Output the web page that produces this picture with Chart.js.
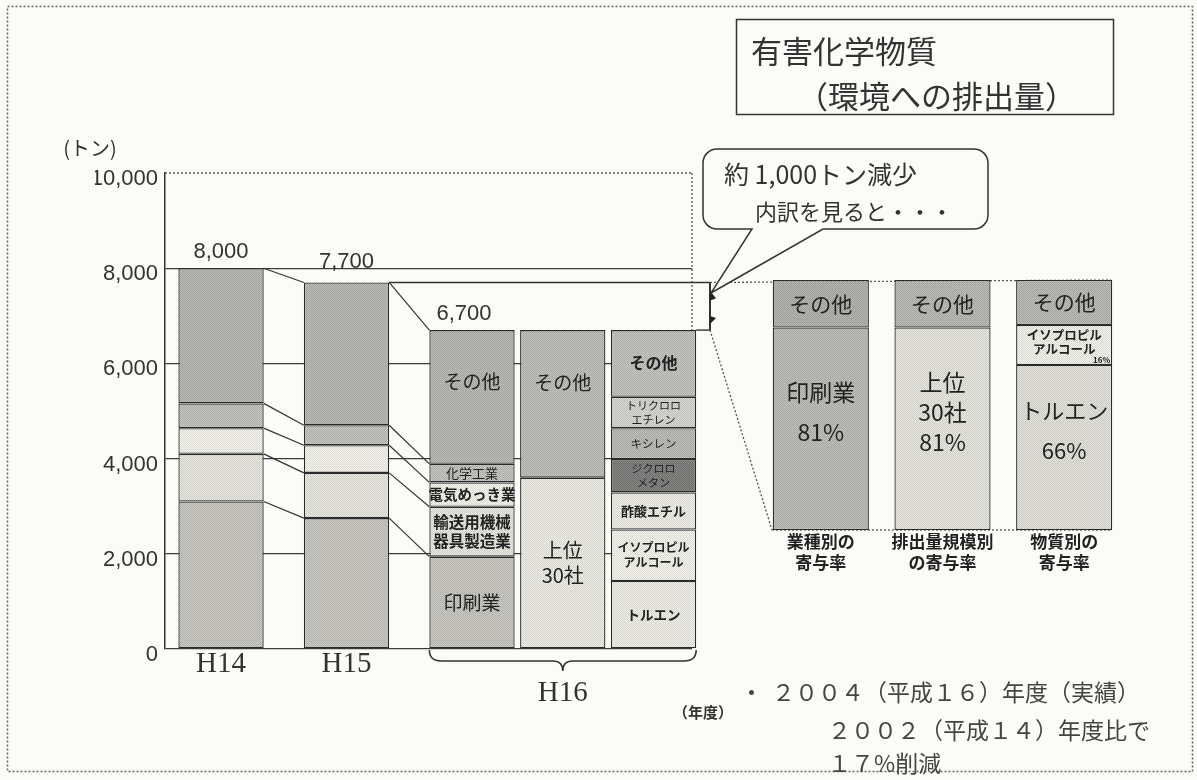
<!DOCTYPE html>
<html lang="ja">
<head>
<meta charset="utf-8">
<title>有害化学物質（環境への排出量）</title>
<script src="https://cdn.jsdelivr.net/npm/chart.js@4.4.1/dist/chart.umd.min.js"></script>
<style>
  html, body { margin: 0; padding: 0; background: #fbfbf8; }
  #wrap { position: relative; width: 1197px; height: 780px; overflow: hidden; }
  #main { position: absolute; left: 0; top: 0; }
  #side { position: absolute; left: 700px; top: 260px; }
</style>
</head>
<body>
<div id="wrap">
  <canvas id="main" width="1197" height="780"></canvas>
  <canvas id="side" width="460" height="340"></canvas>
</div>
<script>
// 排出量 (トン) : H14, H15, H16
var years = ['H14', 'H15', 'H16'];
var totals = [8000, 7700, 6700];
var yTicks = [0, 2000, 4000, 6000, 8000, 10000];

// 業種別
var printing = [3100, 2750, 1940];
var transport = [1000, 950, 1050];
var plating = [540, 580, 510];
var chemical = [520, 420, 390];
var industryOther = [2840, 3000, 2810];

// 排出量規模別 (H16のみ)
var top30 = [null, null, 3600];
var scaleOther = [null, null, 3100];

// 物質別 (H16のみ)
var toluene = [null, null, 1430];
var ipa = [null, null, 1080];
var ethylAcetate = [null, null, 780];
var dichloromethane = [null, null, 700];
var xylene = [null, null, 650];
var tce = [null, null, 660];
var substanceOther = [null, null, 1400];

// 減少分の寄与率 (%)
var shareGroups = [['業種別の', '寄与率'], ['排出量規模別', 'の寄与率'], ['物質別の', '寄与率']];
var shareMain = [81, 81, 66];
var shareSecond = [null, null, 16];
var shareOther = [19, 19, 18];

Chart.defaults.font.family = '"Noto Sans CJK JP", "Noto Sans", sans-serif';
Chart.defaults.color = '#333';

function shade(hex, d) {
  var n = parseInt(hex.slice(1), 16);
  var r = Math.max(0, Math.min(255, (n >> 16) + d));
  var g = Math.max(0, Math.min(255, ((n >> 8) & 255) + d));
  var b = Math.max(0, Math.min(255, (n & 255) + d));
  return 'rgb(' + r + ',' + g + ',' + b + ')';
}

// scanned halftone look
function dots(hex) {
  var cv = document.createElement('canvas');
  cv.width = 2; cv.height = 2;
  var g = cv.getContext('2d');
  g.fillStyle = shade(hex, 14);
  g.fillRect(0, 0, 2, 2);
  g.fillStyle = shade(hex, -14);
  g.fillRect(0, 0, 1, 1);
  g.fillRect(1, 1, 1, 1);
  return g.createPattern(cv, 'repeat');
}

function line(c, x1, y1, x2, y2) {
  c.beginPath(); c.moveTo(x1, y1); c.lineTo(x2, y2); c.stroke();
}

function drawInner(c, el, spec) {
  var top = Math.min(el.y, el.base), bottom = Math.max(el.y, el.base);
  var yc = top + (bottom - top) * (spec.at || 0.5);
  var lh = spec.lh || spec.size * 1.2;
  c.font = (spec.bold ? 'bold ' : '') + spec.size + 'px "Noto Sans CJK JP"';
  c.fillStyle = '#222';
  c.textAlign = 'center';
  c.textBaseline = 'middle';
  var y0 = yc - (spec.lines.length - 1) * lh / 2;
  spec.lines.forEach(function (t, i) { c.fillText(t, el.x, y0 + i * lh); });
  if (spec.note) {
    c.font = 'bold 8px "Noto Sans CJK JP"';
    c.textAlign = 'right';
    c.fillText(spec.note, el.x + el.width / 2 - 2, bottom - 5);
  }
}

// ---- right panel: 寄与率 ----
var shareText = {
  id: 'shareText',
  afterDatasetsDraw: function (chart) {
    var c = chart.ctx;
    c.save();
    chart.data.datasets.forEach(function (ds, k) {
      chart.getDatasetMeta(k).data.forEach(function (el, i) {
        if (ds.inner[i] && ds.data[i] != null) drawInner(c, el, ds.inner[i]);
      });
    });
    c.restore();
  }
};

var sideChart = new Chart(document.getElementById('side'), {
  type: 'bar',
  data: {
    labels: shareGroups,
    datasets: [
      {
        label: '主な寄与',
        data: shareMain,
        backgroundColor: [dots('#b3b3b0'), dots('#dcdbd3'), dots('#d8d7cf')],
        inner: [
          { lines: ['印刷業', '81%'], size: 23, lh: 40, at: 0.42 },
          { lines: ['上位', '30社', '81%'], size: 23, lh: 30, at: 0.42 },
          { lines: ['トルエン', '66%'], size: 22, lh: 40, at: 0.4 }
        ]
      },
      {
        label: 'イソプロピルアルコール',
        data: shareSecond,
        backgroundColor: dots('#e6e5de'),
        inner: [null, null, { lines: ['イソプロピル', 'アルコール'], size: 12.5, lh: 14, bold: true, at: 0.42, note: '16%' }]
      },
      {
        label: 'その他',
        data: shareOther,
        backgroundColor: [dots('#a9a9a6'), dots('#b0b0ad'), dots('#b0b0ad')],
        inner: [
          { lines: ['その他'], size: 21 },
          { lines: ['その他'], size: 21 },
          { lines: ['その他'], size: 21 }
        ]
      }
    ]
  },
  options: {
    responsive: false,
    animation: false,
    devicePixelRatio: 1,
    layout: { padding: { left: 60, right: 35, top: 20, bottom: 20 } },
    datasets: {
      bar: {
        categoryPercentage: 1,
        barPercentage: 0.79,
        borderColor: '#2b2b2b',
        borderWidth: 1.3,
        borderSkipped: false
      }
    },
    plugins: { legend: { display: false }, tooltip: { enabled: false } },
    scales: {
      x: {
        stacked: true,
        grid: { display: false },
        border: { display: false },
        ticks: {
          color: '#222',
          padding: -6,
          maxRotation: 0,
          autoSkip: false,
          font: { size: 17, weight: 'bold', lineHeight: 1.18 }
        },
        afterFit: function (s) { s.height = 50; }
      },
      y: { stacked: true, min: 0, max: 100, display: false }
    }
  },
  plugins: [shareText]
});

// ---- main chart ----
function seg(label, values, color, stack, inner) {
  return {
    label: label,
    stack: stack,
    data: values.map(function (v, i) { return { x: i, y: v }; }),
    backgroundColor: dots(color),
    inner: inner
  };
}

var datasets = [
  seg('印刷業', printing, '#bebdb8', 'industry', { lines: ['印刷業'], size: 19 }),
  seg('輸送用機械器具製造業', transport, '#dddcd4', 'industry', { lines: ['輸送用機械', '器具製造業'], size: 15.5, lh: 19, bold: true }),
  seg('電気めっき業', plating, '#e8e7e0', 'industry', { lines: ['電気めっき業'], size: 14.5, bold: true }),
  seg('化学工業', chemical, '#b9b9b5', 'industry', { lines: ['化学工業'], size: 13 }),
  seg('その他', industryOther, '#afafac', 'industry', { lines: ['その他'], size: 19, at: 0.39 }),
  seg('上位30社', top30, '#e1e0d9', 'scale', { lines: ['上位', '30社'], size: 20, lh: 25 }),
  seg('その他', scaleOther, '#b5b5b2', 'scale', { lines: ['その他'], size: 19, at: 0.36 }),
  seg('トルエン', toluene, '#e3e2db', 'substance', { lines: ['トルエン'], size: 13.5, bold: true }),
  seg('イソプロピルアルコール', ipa, '#e8e7e0', 'substance', { lines: ['イソプロピル', 'アルコール'], size: 12, lh: 15, bold: true }),
  seg('酢酸エチル', ethylAcetate, '#e3e2db', 'substance', { lines: ['酢酸エチル'], size: 13, bold: true }),
  seg('ジクロロメタン', dichloromethane, '#7a7a78', 'substance', { lines: ['ジクロロ', 'メタン'], size: 11, lh: 14 }),
  seg('キシレン', xylene, '#b2b2af', 'substance', { lines: ['キシレン'], size: 11.5 }),
  seg('トリクロロエチレン', tce, '#cbcbc7', 'substance', { lines: ['トリクロロ', 'エチレン'], size: 11, lh: 14 }),
  seg('その他', substanceOther, '#b9b9b6', 'substance', { lines: ['その他'], size: 16, bold: true })
];
var INDUSTRY = 5;

function sidePanel() {
  var cv = document.getElementById('side'), a = sideChart.chartArea;
  return {
    left: cv.offsetLeft + a.left + 12, right: cv.offsetLeft + a.right - 14,
    top: cv.offsetTop + a.top, bottom: cv.offsetTop + a.bottom
  };
}

var decor = {
  id: 'decor',
  beforeDraw: function (chart) {
    var c = chart.ctx;
    c.save();
    c.fillStyle = '#fbfbf8';
    c.fillRect(0, 0, chart.width, chart.height);
    c.strokeStyle = '#666';
    c.lineWidth = 1.5;
    c.setLineDash([2, 2]);
    c.strokeRect(7.5, 6.5, 1185, 765);
    c.restore();
  },
  afterDatasetsDraw: function (chart) {
    var c = chart.ctx, a = chart.chartArea;
    var topInd = chart.getDatasetMeta(INDUSTRY - 1).data;
    var subTop = chart.getDatasetMeta(datasets.length - 1).data[2];
    var h16a = chart.getDatasetMeta(0).data[2];
    var h16b = chart.getDatasetMeta(INDUSTRY).data[2];
    var bx = a.right + 18;
    var p = sidePanel();
    c.save();

    // frame of plot (dotted)
    c.strokeStyle = '#555';
    c.lineWidth = 1.3;
    c.setLineDash([2, 2]);
    line(c, a.left, a.top, a.right, a.top);
    line(c, a.right, a.top, a.right, subTop.y);
    // zoom lines to the right panel
    line(c, bx, topInd[1].y, p.right, p.top);
    line(c, bx, subTop.y, p.left, p.bottom);
    line(c, p.left, p.bottom, p.right, p.bottom);
    c.setLineDash([]);

    // connectors between industry stacks
    c.strokeStyle = '#333';
    c.lineWidth = 1.2;
    for (var k = 0; k < INDUSTRY; k++) {
      var d = chart.getDatasetMeta(k).data;
      for (var i = 0; i < 2; i++) {
        line(c, d[i].x + d[i].width / 2, d[i].y, d[i + 1].x - d[i + 1].width / 2, d[i + 1].y);
      }
    }
    // 7,700 / 6,700 levels and bracket
    c.lineWidth = 1.4;
    line(c, topInd[1].x + topInd[1].width / 2, topInd[1].y, bx, topInd[1].y);
    line(c, subTop.x + subTop.width / 2, subTop.y, bx, subTop.y);
    c.lineWidth = 2;
    line(c, bx, topInd[1].y, bx, subTop.y);
    c.fillStyle = '#222';
    c.beginPath();
    c.moveTo(bx, topInd[1].y + 8); c.lineTo(bx + 6, topInd[1].y + 16); c.lineTo(bx, topInd[1].y + 18);
    c.fill();
    c.beginPath();
    c.moveTo(bx, subTop.y - 14); c.lineTo(bx + 6, subTop.y - 12); c.lineTo(bx, subTop.y - 6);
    c.fill();

    // inner labels of H16
    datasets.forEach(function (ds, k) {
      var el = chart.getDatasetMeta(k).data[2];
      if (ds.data[2].y != null) drawInner(c, el, ds.inner);
    });

    // totals
    c.fillStyle = '#333';
    c.font = '22px "Liberation Sans", Arial, sans-serif';
    c.textAlign = 'center';
    c.textBaseline = 'middle';
    totals.forEach(function (t, i) {
      var el = topInd[i];
      c.fillText(t.toLocaleString('en-US'), el.x - (i === 2 ? 8 : 0), el.y - (i === 1 ? 21 : 16));
    });

    // year labels
    c.font = '29px "Liberation Serif", "DejaVu Serif", serif';
    c.fillText(years[0], topInd[0].x, a.bottom + 15);
    c.fillText(years[1], topInd[1].x, a.bottom + 15);
    c.fillText(years[2], h16b.x, a.bottom + 44);

    // brace under H16
    var L = h16a.x - h16a.width / 2, R = subTop.x + subTop.width / 2, M = h16b.x, t0 = a.bottom + 1;
    c.lineWidth = 1.5;
    c.strokeStyle = '#333';
    c.beginPath();
    c.moveTo(L, t0);
    c.quadraticCurveTo(L, t0 + 11, L + 12, t0 + 11);
    c.lineTo(M - 10, t0 + 11);
    c.quadraticCurveTo(M, t0 + 11, M, t0 + 21);
    c.quadraticCurveTo(M, t0 + 11, M + 10, t0 + 11);
    c.lineTo(R - 12, t0 + 11);
    c.quadraticCurveTo(R, t0 + 11, R, t0);
    c.stroke();

    c.font = 'bold 15px "Noto Sans CJK JP"';
    c.fillText('（年度）', 703, 712);
    c.font = '20px "Noto Sans CJK JP"';
    c.fillText('(トン)', 90, 148);
    c.restore();
  },
  afterDraw: function (chart) {
    var c = chart.ctx;
    c.save();
    c.strokeStyle = '#333';
    c.fillStyle = '#333';
    c.lineWidth = 1.5;

    // title box
    c.strokeRect(736.5, 19.5, 377, 95);
    c.textAlign = 'left';
    c.textBaseline = 'middle';
    c.font = '31px "Noto Sans CJK JP"';
    c.fillText('有害化学物質', 751, 51);
    c.fillText('（環境への排出量）', 797, 96);

    // callout bubble
    var x0 = 703, y0 = 149, x1 = 988, y1 = 229, r = 14;
    c.beginPath();
    c.moveTo(x0 + r, y0);
    c.arcTo(x1, y0, x1, y1, r);
    c.arcTo(x1, y1, x0, y1, r);
    c.lineTo(823, y1);
    c.lineTo(711, 293);
    c.lineTo(752, y1);
    c.arcTo(x0, y1, x0, y0, r);
    c.arcTo(x0, y0, x1, y0, r);
    c.closePath();
    c.fillStyle = '#fbfbf8';
    c.fill();
    c.stroke();
    c.fillStyle = '#333';
    c.font = '25px "Noto Sans CJK JP"';
    c.fillText('約 1,000トン減少', 724, 174);
    c.font = '22px "Noto Sans CJK JP"';
    c.fillText('内訳を見ると・・・', 755, 212);

    // notes
    c.fillStyle = '#444';
    c.font = '23px "Noto Sans CJK JP"';
    c.fillText('・', 740, 692);
    c.fillText('２００４（平成１６）年度（実績）', 772, 692);
    c.fillText('２００２（平成１４）年度比で', 828, 730);
    c.fillText('１７%削減', 828, 763);
    c.restore();
  }
};

var mainChart = new Chart(document.getElementById('main'), {
  type: 'bar',
  data: { datasets: datasets },
  options: {
    responsive: false,
    animation: false,
    devicePixelRatio: 1,
    layout: { padding: { left: 95, top: 173, right: 505, bottom: 131 } },
    datasets: {
      bar: {
        categoryPercentage: 2.17,
        barPercentage: 0.94,
        borderColor: '#2b2b2b',
        borderWidth: 1.3,
        borderSkipped: false,
        clip: false
      }
    },
    plugins: { legend: { display: false }, tooltip: { enabled: false } },
    scales: {
      x: {
        type: 'linear',
        min: -1.17,
        max: 3.03,
        bounds: 'data',
        offset: false,
        display: false,
        grid: { offset: false },
        // one tick per year keeps the bar spacing at one year
        afterBuildTicks: function (s) { s.ticks = years.map(function (_, i) { return { value: i }; }); }
      },
      y: {
        stacked: true,
        min: 0,
        max: 10000,
        afterBuildTicks: function (s) { s.ticks = yTicks.map(function (v) { return { value: v }; }); },
        afterFit: function (s) { s.width = 70; },
        grid: {
          drawTicks: false,
          lineWidth: 1.3,
          color: function (ctx) { return ctx.tick && ctx.tick.value === 10000 ? 'rgba(0,0,0,0)' : '#3c3c3c'; }
        },
        border: { display: true, color: '#333', width: 1.5 },
        ticks: {
          padding: 7,
          labelOffset: 6,
          color: '#333',
          font: { family: '"Liberation Sans", Arial, sans-serif', size: 22 },
          callback: function (v) { return v.toLocaleString('en-US'); }
        }
      }
    }
  },
  plugins: [decor]
});
</script>
</body>
</html>
